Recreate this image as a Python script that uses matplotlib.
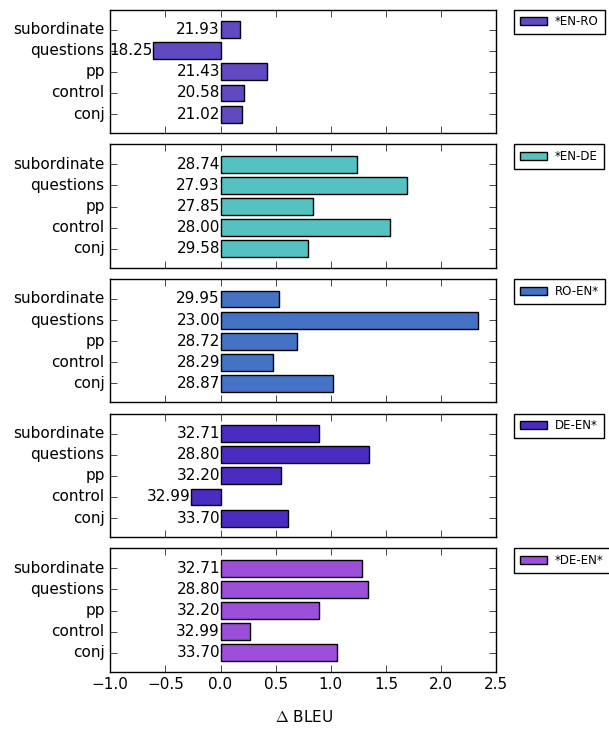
import numpy as np
from matplotlib import pyplot as plt

plt.style.use('classic')

categories = ['conj', 'control', 'pp', 'questions', 'subordinate']
pairs = ['*EN-RO', '*EN-DE', 'RO-EN*', 'DE-EN*', '*DE-EN*']
colors = ['#6149c2', '#55c1c1', '#4473c5', '#4a2cc1', '#9c4fd8']

# delta BLEU per category (conj, control, pp, questions, subordinate)
delta_en_ro = [0.19, 0.21, 0.42, -0.61, 0.18]
delta_en_de = [0.79, 1.54, 0.84, 1.69, 1.24]
delta_ro_en = [1.02, 0.48, 0.69, 2.33, 0.53]
delta_de_en = [0.61, -0.27, 0.55, 1.35, 0.89]
delta_de_en2 = [1.06, 0.27, 0.89, 1.34, 1.28]

# baseline BLEU printed next to the bars
bleu_en_ro = ['21.02', '20.58', '21.43', '18.25', '21.93']
bleu_en_de = ['29.58', '28.00', '27.85', '27.93', '28.74']
bleu_ro_en = ['28.87', '28.29', '28.72', '23.00', '29.95']
bleu_de_en = ['33.70', '32.99', '32.20', '28.80', '32.71']
bleu_de_en2 = ['33.70', '32.99', '32.20', '28.80', '32.71']

deltas = [delta_en_ro, delta_en_de, delta_ro_en, delta_de_en, delta_de_en2]
bleus = [bleu_en_ro, bleu_en_de, bleu_ro_en, bleu_de_en, bleu_de_en2]

fig, axes = plt.subplots(5, 1, sharex=True, figsize=(6.09, 7.35), dpi=100)
fig.patch.set_facecolor('white')
fig.subplots_adjust(left=0.181, right=0.815, top=0.987, bottom=0.086,
                    hspace=0.09)

y = np.arange(len(categories))
for ax, d, b, name, c in zip(axes, deltas, bleus, pairs, colors):
    ax.barh(y, d, height=0.8, align='center', color=c,
            edgecolor='black', linewidth=1, label=name)
    for yi, val, txt in zip(y, d, b):
        ax.text(min(val, 0) - 0.005, yi, txt, ha='right', va='center',
                fontsize=11)
    ax.set_yticks(y)
    ax.set_yticklabels(categories, fontsize=11)
    ax.set_ylim(-0.9, 4.95)
    ax.set_xlim(-1.0, 2.5)
    ax.tick_params(axis='x', labelsize=11)
    ax.tick_params(length=5)
    ax.legend(loc='upper left', bbox_to_anchor=(1.045, 1.0), fontsize=8.5,
              handlelength=2.3, borderpad=0.5, handletextpad=0.7,
              borderaxespad=0, frameon=True)

fig.text(0.5, 0.018, r'$\Delta$ BLEU', ha='center', fontsize=11)
plt.savefig('out.png', dpi=100, facecolor='white')
